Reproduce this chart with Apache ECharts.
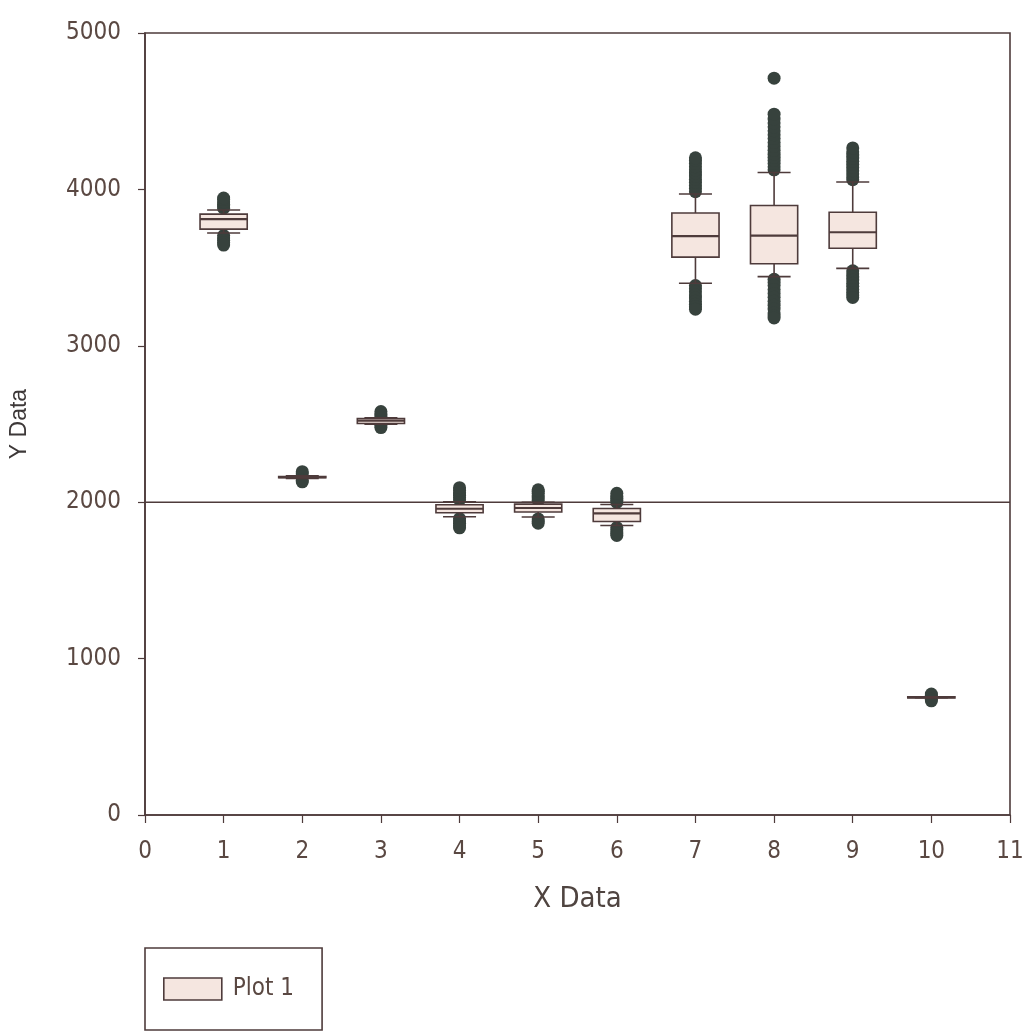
<!DOCTYPE html>
<html>
<head>
<meta charset="utf-8">
<script src="https://cdn.jsdelivr.net/npm/echarts@6/dist/echarts.min.js"></script>
<style>
html,body{margin:0;padding:0;background:#ffffff;}
#chart{width:1029px;height:1034px;}
</style>
</head>
<body>
<div id="chart"></div>
<script>
// X positions of each box
const xPositions = [1, 2, 3, 4, 5, 6, 7, 8, 9, 10];
// Box statistics: [lower whisker, Q1, median, Q3, upper whisker]
const boxStats = [
  [3721, 3746, 3810, 3842, 3868],
  [2152, 2156, 2160, 2164, 2168],
  [2498, 2503, 2522, 2535, 2540],
  [1907, 1933, 1958, 1984, 2003],
  [1905, 1937, 1963, 1988, 2000],
  [1851, 1877, 1928, 1960, 1985],
  [3400, 3567, 3701, 3849, 3971],
  [3442, 3525, 3704, 3897, 4108],
  [3495, 3624, 3726, 3854, 4047],
  [750, 751, 753, 755, 756]
];
// Outlier values for each box (same order as xPositions)
const outlierValues = [
  [3880, 3895, 3905, 3920, 3935, 3945, 3705, 3690, 3675, 3660, 3644],
  [2180, 2195, 2140, 2130],
  [2550, 2565, 2580, 2490, 2477],
  [2015, 2030, 2045, 2060, 2075, 2093, 1895, 1880, 1865, 1850, 1836],
  [2012, 2027, 2042, 2057, 2070, 2079, 1893, 1880, 1866],
  [1998, 2012, 2026, 2040, 2057, 1838, 1824, 1810, 1798, 1787],
  [3985, 4005, 4025, 4045, 4065, 4085, 4105, 4125, 4145, 4165, 4185, 4202,
   3385, 3365, 3345, 3325, 3305, 3285, 3265, 3250, 3234],
  [4125, 4145, 4165, 4185, 4205, 4225, 4250, 4275, 4300, 4325, 4350, 4375, 4400, 4425, 4450, 4481, 4711,
   3425, 3405, 3385, 3360, 3335, 3310, 3285, 3260, 3235, 3210, 3190, 3178],
  [4062, 4080, 4100, 4120, 4140, 4160, 4180, 4200, 4220, 4240, 4265,
   3480, 3460, 3440, 3420, 3400, 3380, 3360, 3340, 3325, 3309],
  [765, 773, 740, 730]
];
// Horizontal reference line
const refLineX = [0, 11];
const refLineY = [2000, 2000];
// Tick labels
const xTicks = [0, 1, 2, 3, 4, 5, 6, 7, 8, 9, 10, 11];
const yTicks = [0, 1000, 2000, 3000, 4000, 5000];

const boxData = xPositions.map((x, i) => [x].concat(boxStats[i]));
const outlierData = [];
xPositions.forEach((x, i) => outlierValues[i].forEach(v => outlierData.push([x, v])));
const lineData = refLineX.map((x, i) => [x, refLineY[i]]);

const EDGE = '#4e3b3b';
const FILL = '#f5e6e0';
const DOT = '#37423d';
const NARROW = "'Liberation Sans Narrow', 'DejaVu Sans Condensed', sans-serif";

const chart = echarts.init(document.getElementById('chart'), null, {renderer: 'canvas'});

function renderBox(params, api) {
  const x = api.value(0);
  const lo = api.coord([x, api.value(1)]);
  const q1 = api.coord([x, api.value(2)]);
  const med = api.coord([x, api.value(3)]);
  const q3 = api.coord([x, api.value(4)]);
  const hi = api.coord([x, api.value(5)]);
  const bw = api.size([0.6, 0])[0];
  const cw = api.size([0.42, 0])[0];
  const cx = q1[0];
  const ls = {stroke: EDGE, lineWidth: 1.6};
  return {
    type: 'group',
    children: [
      {type: 'line', shape: {x1: cx, y1: q3[1], x2: cx, y2: hi[1]}, style: ls},
      {type: 'line', shape: {x1: cx, y1: q1[1], x2: cx, y2: lo[1]}, style: ls},
      {type: 'line', shape: {x1: cx - cw / 2, y1: hi[1], x2: cx + cw / 2, y2: hi[1]}, style: ls},
      {type: 'line', shape: {x1: cx - cw / 2, y1: lo[1], x2: cx + cw / 2, y2: lo[1]}, style: ls},
      {type: 'rect', shape: {x: cx - bw / 2, y: q3[1], width: bw, height: Math.max(q1[1] - q3[1], 1)},
        style: {fill: FILL, stroke: EDGE, lineWidth: 1.6}},
      {type: 'line', shape: {x1: cx - bw / 2, y1: med[1], x2: cx + bw / 2, y2: med[1]},
        style: {stroke: EDGE, lineWidth: 2.2}}
    ]
  };
}

chart.setOption({
  backgroundColor: '#ffffff',
  animation: false,
  grid: {left: 145, right: 19, top: 33, bottom: 219, show: true,
    borderColor: EDGE, borderWidth: 1.6, backgroundColor: 'transparent'},
  legend: {
    left: 145, top: 948,
    padding: [29, 28, 29, 18],
    borderColor: EDGE, borderWidth: 1.6,
    itemWidth: 58, itemHeight: 22,
    textStyle: {fontFamily: NARROW, fontSize: 24, color: '#5a4842', padding: [0, 0, 0, 6]},
    data: [{name: 'Plot 1', icon: 'rect',
      itemStyle: {color: FILL, borderColor: EDGE, borderWidth: 1.6}}]
  },
  xAxis: {
    type: 'value', min: 0, max: 11, interval: 1,
    name: 'X Data', nameLocation: 'middle', nameGap: 70,
    nameTextStyle: {fontFamily: NARROW, fontSize: 29, color: '#4f4440'},
    axisLine: {show: true, lineStyle: {color: EDGE, width: 1.6}},
    axisTick: {show: true, inside: false, length: 8, lineStyle: {color: EDGE, width: 1.2}},
    axisLabel: {margin: 25, fontFamily: NARROW, fontSize: 24, color: '#5a4842',
      formatter: v => xTicks.indexOf(v) >= 0 ? String(v) : ''},
    splitLine: {show: false}
  },
  yAxis: {
    type: 'value', min: 0, max: 5000, interval: 1000,
    name: 'Y Data', nameLocation: 'middle', nameGap: 114, nameRotate: 90,
    nameTextStyle: {fontFamily: "'Liberation Sans', Arial, sans-serif", fontSize: 23, color: '#3d3838'},
    axisLine: {show: true, lineStyle: {color: EDGE, width: 1.6}},
    axisTick: {show: true, inside: false, length: 7, lineStyle: {color: EDGE, width: 1.2}},
    axisLabel: {margin: 24, fontFamily: NARROW, fontSize: 24, color: '#5a4842',
      formatter: v => yTicks.indexOf(v) >= 0 ? String(v) : ''},
    splitLine: {show: false}
  },
  series: [
    {
      name: 'ref', type: 'line', data: lineData, symbol: 'none', silent: true,
      lineStyle: {color: EDGE, width: 1.6}, z: 1
    },
    {
      name: 'outliers', type: 'scatter', data: outlierData, symbol: 'circle', symbolSize: 13,
      itemStyle: {color: DOT, opacity: 1}, z: 2
    },
    {
      name: 'Plot 1', type: 'custom', renderItem: renderBox, data: boxData,
      encode: {x: 0, y: [1, 2, 3, 4, 5]},
      itemStyle: {color: FILL, borderColor: EDGE}, z: 3
    }
  ]
});
</script>
</body>
</html>
